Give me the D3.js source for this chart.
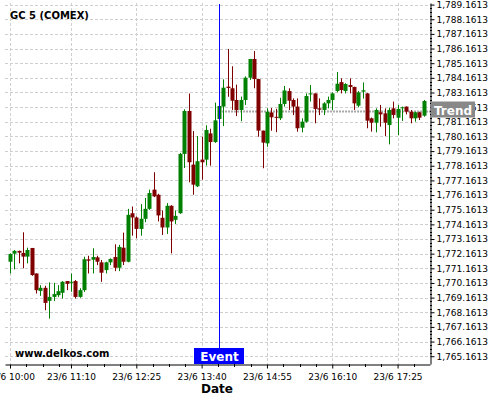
<!DOCTYPE html>
<html><head><meta charset="utf-8">
<script src="https://cdn.jsdelivr.net/npm/d3@7"></script>
<style>
body{margin:0;background:#fff;}
svg{display:block;font-family:"DejaVu Sans",sans-serif;}
</style>
</head><body>
<svg id="chart" width="500" height="400"></svg>
<script>
// ---------- data ----------
const title = "GC 5 (COMEX)";
const watermark = "www.delkos.com";
const xTitle = "Date";
const firstBar = [2021, 5, 23, 10, 0];   // 23/6 10:00
const barMinutes = 5;
const open  = [1771.61,1772.16,1772.35,1772.21,1771.96,1772.55,1770.81,1769.62,1769.83,1768.94,
               1769.21,1769.33,1769.49,1770.29,1770.22,1770.29,1769.21,1769.67,1771.77,1771.75,
               1771.91,1771.57,1771.04,1771.57,1771.93,1771.20,1772.57,1771.61,1774.92,1774.63,
               1773.85,1774.54,1775.22,1776.53,1776.18,1774.61,1773.95,1775.43,1774.47,1774.92,
               1778.97,1781.90,1778.24,1776.76,1778.58,1778.58,1780.37,1779.78,1781.35,1782.20,
               1783.56,1783.45,1782.65,1781.97,1782.65,1784.17,1785.45,1784.08,1780.56,1779.69,
               1781.80,1781.50,1781.40,1782.38,1783.26,1782.65,1782.20,1780.76,1781.17,1783.04,
               1783.10,1782.08,1781.97,1782.42,1782.65,1783.26,1783.87,1783.26,1783.67,1783.54,
               1782.26,1783.22,1783.10,1781.40,1781.10,1781.81,1781.74,1780.94,1782.08,1781.44,
               1782.08,1782.20,1781.85,1781.40,1781.81,1781.58];
const high  = [1772.18,1772.41,1772.37,1773.62,1772.57,1772.55,1770.81,1770.01,1769.97,1770.20,
               1770.17,1770.01,1770.29,1770.29,1770.81,1770.36,1769.80,1771.95,1772.02,1772.53,
               1772.02,1771.73,1771.61,1771.84,1772.80,1772.76,1773.60,1775.22,1775.38,1774.70,
               1775.54,1775.96,1776.53,1777.72,1776.25,1775.11,1775.61,1775.47,1775.11,1779.04,
               1782.01,1783.09,1780.53,1780.19,1780.14,1780.92,1780.69,1782.47,1782.45,1784.06,
               1786.13,1784.95,1783.70,1782.88,1784.26,1785.45,1785.99,1784.10,1780.56,1782.08,
               1782.10,1782.05,1782.80,1783.60,1783.45,1782.76,1782.76,1781.40,1783.10,1783.67,
               1783.10,1782.76,1782.50,1782.88,1783.17,1784.56,1784.13,1783.80,1784.13,1783.56,
               1783.26,1783.85,1783.12,1781.45,1782.08,1782.31,1782.08,1782.13,1782.54,1782.31,
               1782.20,1782.20,1781.97,1781.85,1781.85,1782.65];
const low   = [1770.81,1771.09,1771.50,1771.16,1771.50,1770.65,1769.44,1769.28,1768.30,1767.73,
               1768.92,1769.21,1769.10,1769.67,1769.56,1769.10,1769.15,1769.55,1770.81,1770.81,
               1771.38,1770.24,1770.81,1771.38,1770.97,1770.97,1771.38,1771.57,1773.39,1773.21,
               1773.39,1774.31,1775.15,1776.02,1774.36,1773.44,1773.51,1772.18,1774.19,1774.88,
               1778.01,1777.03,1776.18,1776.71,1777.21,1778.17,1778.17,1779.72,1780.87,1780.87,
               1782.87,1781.97,1781.55,1781.20,1782.31,1784.02,1783.45,1780.14,1777.99,1779.46,
               1780.55,1780.45,1781.28,1782.20,1781.97,1781.62,1780.49,1780.44,1781.10,1782.54,
               1781.06,1781.62,1781.62,1782.08,1781.97,1783.17,1783.10,1783.10,1783.10,1781.97,
               1782.15,1782.75,1780.72,1780.49,1780.44,1780.83,1780.19,1779.62,1781.40,1780.26,
               1781.22,1781.67,1781.06,1781.17,1781.28,1781.51];
const close = [1772.14,1772.35,1772.23,1771.96,1772.41,1770.70,1769.67,1769.83,1768.80,1769.21,
               1769.40,1769.60,1770.24,1770.10,1770.24,1769.21,1769.67,1771.78,1771.68,1771.93,
               1771.61,1770.86,1771.57,1771.80,1771.20,1772.62,1771.61,1774.81,1774.63,1773.85,
               1774.54,1775.22,1776.30,1776.07,1774.77,1773.95,1775.43,1774.36,1774.74,1778.97,
               1781.90,1778.40,1776.87,1778.47,1778.40,1780.60,1779.78,1781.26,1782.24,1783.49,
               1783.47,1782.60,1781.97,1782.65,1784.17,1785.45,1784.08,1780.56,1779.74,1781.85,
               1781.47,1781.45,1782.38,1783.30,1782.60,1782.20,1780.72,1781.17,1782.92,1783.10,
               1782.04,1781.99,1782.42,1782.65,1783.10,1783.76,1783.33,1783.74,1783.54,1782.42,
               1783.17,1783.31,1781.24,1781.10,1781.97,1781.67,1781.10,1781.97,1781.63,1782.04,
               1782.15,1781.85,1781.40,1781.81,1781.44,1782.58];
const yTicks = [1765.1613,1766.1613,1767.1613,1768.1613,1769.1613,1770.1613,1771.1613,1772.1613,
                1773.1613,1774.1613,1775.1613,1776.1613,1777.1613,1778.1613,1779.1613,1780.1613,
                1781.1613,1782.1613,1783.1613,1784.1613,1785.1613,1786.1613,1787.1613,1788.1613,1789.1613];
const xTickTimes = ["10:00","11:10","12:25","13:40","14:55","16:10","17:25"];
const eventTime = "14:00";
const eventLabel = "Event";
const trendValue = 1781.90;
const trendLabel = "Trend";
const yDomain = [1764.63, 1789.27];
const xDomainTimes = ["09:54:15", "18:02:13"];

// ---------- helpers ----------
function at(hms){
  const p = hms.split(":").map(Number);
  return new Date(firstBar[0], firstBar[1], firstBar[2], p[0], p[1], p[2]||0);
}
const start = new Date(...firstBar);
const bars = open.map((o,i)=>({
  t: new Date(start.getTime() + i*barMinutes*60000),
  o, h: high[i], l: low[i], c: close[i]
}));

// ---------- layout ----------
const L = 5, R = 430, T = 3, B = 364;
const svg = d3.select("#chart");
const x = d3.scaleTime().domain(xDomainTimes.map(at)).range([L, R]);
const y = d3.scaleLinear().domain(yDomain).range([B, T]);
const xTicks = xTickTimes.map(at);

// grid
const grid = svg.append("g").attr("stroke", "#cfcfcf").attr("stroke-dasharray", "3,2").attr("stroke-width", 1);
grid.selectAll(".h").data(yTicks).enter().append("line")
  .attr("x1", L).attr("x2", R)
  .attr("y1", d => Math.round(y(d)) + 0.5).attr("y2", d => Math.round(y(d)) + 0.5);
grid.selectAll(".v").data(xTicks).enter().append("line")
  .attr("y1", T).attr("y2", B)
  .attr("x1", d => Math.round(x(d)) + 0.5).attr("x2", d => Math.round(x(d)) + 0.5);

// trend line
const ty = Math.round(y(trendValue)) + 0.5;
svg.append("line").attr("x1", x(at(eventTime))).attr("x2", R)
  .attr("y1", ty).attr("y2", ty)
  .attr("stroke", "#a8a8a8").attr("stroke-width", 2).attr("stroke-dasharray", "2,1");

// candles
const bw = 4;
const cg = svg.append("g");
bars.forEach(b => {
  const cx = Math.round(x(b.t));
  const col = b.c >= b.o ? "#008000" : "#800000";
  cg.append("line").attr("x1", cx + 0.5).attr("x2", cx + 0.5)
    .attr("y1", y(b.h)).attr("y2", y(b.l)).attr("stroke", col).attr("stroke-width", 1);
  const top = y(Math.max(b.o, b.c)), bot = y(Math.min(b.o, b.c));
  cg.append("rect").attr("x", cx - 1.5).attr("width", bw)
    .attr("y", top).attr("height", Math.max(1, bot - top)).attr("fill", col);
});

// axes
const fmt = d3.format(",.4f");
const yAxis = svg.append("g").attr("transform", `translate(${R + 0.5},0)`)
  .call(d3.axisRight(y).tickValues(yTicks).tickFormat(fmt).tickSize(4).tickSizeOuter(0).tickPadding(2));
const xAxis = svg.append("g").attr("transform", `translate(0,${B + 0.5})`)
  .call(d3.axisBottom(x).tickValues(xTicks).tickFormat(d3.timeFormat("%-d/%-m %H:%M")).tickSize(4).tickSizeOuter(0).tickPadding(5));
[yAxis, xAxis].forEach(g => {
  g.attr("font-family", "DejaVu Sans, sans-serif").attr("font-size", 9);
  g.selectAll("text").attr("fill", "#000");
  g.select(".domain").attr("stroke", "#000");
  g.selectAll(".tick line").attr("stroke", "#000");
});

// minor ticks on x axis (4 per major interval)
const step = (xTicks[2] - xTicks[1]) / 4;
const minor = [];
for (let t = xTicks[0].getTime() - step; x(new Date(t)) > L; t -= step) minor.push(new Date(t));
xTicks.forEach(t => { for (let k = 1; k < 4; k++) { const m = new Date(t.getTime() + k*step); if (x(m) < R) minor.push(m); } });
svg.append("g").selectAll("line").data(minor).enter().append("line")
  .attr("x1", d => Math.round(x(d)) + 0.5).attr("x2", d => Math.round(x(d)) + 0.5)
  .attr("y1", B).attr("y2", B + 3).attr("stroke", "#000");

// minor ticks on y axis
const yMinor = [];
yTicks.forEach(v => { [0.25, 0.5, 0.75].forEach(f => { if (v + f < yDomain[1]) yMinor.push(v + f); }); });
svg.append("g").selectAll("line").data(yMinor).enter().append("line")
  .attr("x1", R).attr("x2", R + 2)
  .attr("y1", d => Math.round(y(d)) + 0.5).attr("y2", d => Math.round(y(d)) + 0.5).attr("stroke", "#000");

// event line + label
const ex = Math.round(x(at(eventTime))) + 0.5;
svg.append("line").attr("x1", ex).attr("x2", ex).attr("y1", T + 1).attr("y2", B)
  .attr("stroke", "#0000ff").attr("stroke-width", 1);
svg.append("rect").attr("x", ex - 25.5).attr("y", B - 16).attr("width", 50).attr("height", 16).attr("fill", "#0000ff");
svg.append("text").attr("x", ex).attr("y", B - 3).attr("text-anchor", "middle")
  .attr("fill", "#fff").attr("font-weight", "bold").attr("font-size", 12).text(eventLabel);

// trend label
svg.append("rect").attr("x", R + 1).attr("y", ty - 10).attr("width", 44).attr("height", 16).attr("fill", "#888");
svg.append("text").attr("x", R + 23).attr("y", ty + 3).attr("text-anchor", "middle")
  .attr("fill", "#fff").attr("font-weight", "bold").attr("font-size", 12).text(trendLabel);

// texts
svg.append("text").attr("x", 10).attr("y", 19).attr("font-weight", "bold").attr("font-size", 10).text(title);
svg.append("text").attr("x", 15).attr("y", 357).attr("font-weight", "bold").attr("font-size", 10).text(watermark);
svg.append("text").attr("x", 217).attr("y", 393).attr("text-anchor", "middle")
  .attr("font-weight", "bold").attr("font-size", 12).text(xTitle);
</script>
</body></html>
